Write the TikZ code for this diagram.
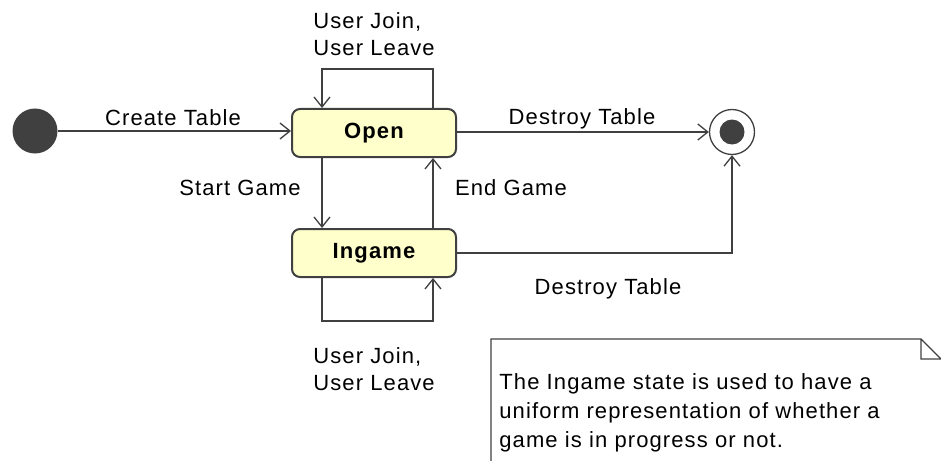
\documentclass[tikz,border=0pt]{standalone}
\usepackage{fontspec}
\setmainfont{Liberation Sans}[LetterSpace=5]
\usepackage{tikz}
\usetikzlibrary{calc,arrows.meta,positioning}
\definecolor{lineGray}{RGB}{64,64,64}
\definecolor{stateFill}{RGB}{255,255,204}

\begin{document}
\begin{tikzpicture}[x=0.5pt, y=-0.5pt,
	font=\fontsize{11pt}{13.5pt}\selectfont,
	state/.style={rectangle, rounded corners=4pt, draw=lineGray, line width=1pt, fill=stateFill,
		minimum width=82pt, minimum height=24pt, font=\fontsize{11pt}{13.5pt}\selectfont\bfseries},
	trans/.style={draw=lineGray, line width=0.65pt, -{Straight Barb[length=5pt, width=8pt]}},
	lbl/.style={inner sep=0pt, align=left}]
	\useasboundingbox (0,0) rectangle (941,460);

	\node (init) [circle, fill=lineGray, minimum size=22.5pt, inner sep=0pt] at (35,131) {};
	\node (open) [state] at (374,133) {Open};
	\node (ingame) [state] at (374,253) {Ingame};
	\node (final) [circle, draw=lineGray, line width=0.65pt, minimum size=22.5pt, inner sep=0pt] at (732,132) {};
	\node (finaldot) [circle, fill=lineGray, minimum size=12.5pt, inner sep=0pt] at (final) {};

	\draw [trans] (init) -- (init -| open.west);
	\draw [trans] (open.east |- final) -- (final);
	\draw [trans] ([xshift=-26pt]open.south) -- ([xshift=-26pt]ingame.north);
	\draw [trans] ([xshift=29.5pt]ingame.north) -- ([xshift=29.5pt]open.south);
	\draw [trans] ([xshift=29.5pt]open.north) -- ++(0,19.5pt) -| ([xshift=-26pt]open.north);
	\draw [trans] ([xshift=-26pt]ingame.south) -- ++(0,-21.5pt) -| ([xshift=29.5pt]ingame.south);
	\draw [trans] (ingame) -| (final);

	\node (lcreate) [lbl, anchor=base] at (173,126) {Create Table};
	\node (ldestroy) [lbl, anchor=base] at (582,125) {Destroy Table};
	\node (ldestroy2) [lbl, anchor=base] at (608,294) {Destroy Table};
	\node (lstart) [lbl, anchor=base] at (240,195) {Start Game};
	\node (lend) [lbl, anchor=base] at (511,195) {End Game};
	\node (ljoin) [lbl, anchor=north west] at (313,12) {User Join,\\User Leave};
	\node (ljoin2) [lbl, anchor=north west] at (313,347) {User Join,\\User Leave};

	% note
	\draw [lineGray, line width=0.65pt] (491,461) -- (491,339) -- (921,339) -- (941,359)
		(921,339) -- (921,359) -- (941,359);
	\node (note) [lbl, anchor=north west, font=\fontsize{11pt}{14.5pt}\selectfont] at (499,373)
		{The Ingame state is used to have a\\uniform representation of whether a\\game is in progress or not.};
\end{tikzpicture}
\end{document}
